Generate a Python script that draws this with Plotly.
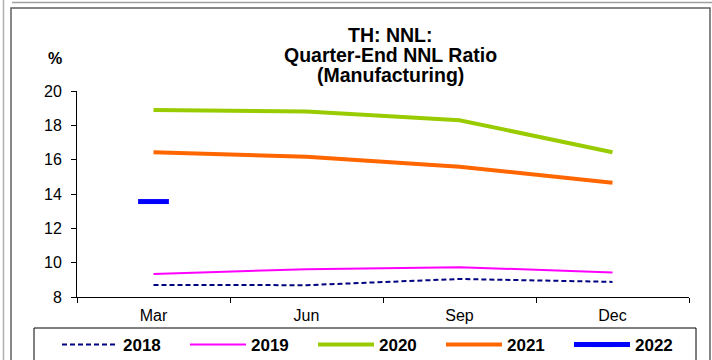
"""TH: NNL quarter-end NNL ratio (manufacturing) by year."""

import plotly.graph_objects as go

quarters = ["Mar", "Jun", "Sep", "Dec"]
years = ["2018", "2019", "2020", "2021", "2022"]
nnl_2018 = [8.70, 8.69, 9.05, 8.88]
nnl_2019 = [9.34, 9.62, 9.74, 9.42]
nnl_2020 = [18.89, 18.80, 18.30, 16.43]
nnl_2021 = [16.43, 16.17, 15.59, 14.66]
nnl_2022 = [13.56]
y_ticks = [8, 10, 12, 14, 16, 18, 20]

FONT = "Liberation Sans, Arial, sans-serif"
W, H = 712, 360
L, R, T, B = 77, 23, 91, 63
PW, PH = W - L - R, H - T - B


def px(x):
    return (x - L) / PW


def py(y):
    return (H - B - y) / PH


fig = go.Figure()
fig.add_trace(go.Scatter(
    x=quarters, y=nnl_2018, name=years[0], mode="lines",
    line=dict(color="#000080", width=2, dash="5px,3px"),
))
fig.add_trace(go.Scatter(
    x=quarters, y=nnl_2019, name=years[1], mode="lines",
    line=dict(color="#FF00FF", width=2),
))
fig.add_trace(go.Scatter(
    x=quarters, y=nnl_2020, name=years[2], mode="lines",
    line=dict(color="#99CC00", width=4),
))
fig.add_trace(go.Scatter(
    x=quarters, y=nnl_2021, name=years[3], mode="lines",
    line=dict(color="#FF6600", width=4),
))
fig.add_trace(go.Scatter(
    x=quarters[:len(nnl_2022)], y=nnl_2022, name=years[4], mode="lines+markers",
    line=dict(color="#0000FF", width=5),
    marker=dict(symbol="line-ew", size=22, color="#0000FF",
                line=dict(color="#0000FF", width=5)),
))

# outer frames
fig.add_shape(type="rect", xref="paper", yref="paper",
              x0=px(11), x1=px(710), y0=py(380), y1=py(8),
              line=dict(color="#606060", width=1.5), layer="below")
fig.add_shape(type="line", xref="paper", yref="paper",
              x0=px(12), x1=px(712), y0=py(2.5), y1=py(2.5),
              line=dict(color="#A0A0A0", width=1.5))
fig.add_shape(type="line", xref="paper", yref="paper",
              x0=px(3.5), x1=px(3.5), y0=py(0), y1=py(360),
              line=dict(color="#B0B0B0", width=1.5))
# legend box
fig.add_shape(type="rect", xref="paper", yref="paper",
              x0=px(34), x1=px(696), y0=py(380), y1=py(328),
              line=dict(color="#000000", width=1))

title_lines = ["TH: NNL:", "Quarter-End NNL Ratio", "(Manufacturing)"]
for i, line in enumerate(title_lines):
    fig.add_annotation(
        text=line, xref="paper", yref="paper", x=px(390), y=py(35 + 20 * i),
        xanchor="center", yanchor="middle", showarrow=False,
        font=dict(family=FONT, size=19.5, color="#000000", weight="bold"),
    )
fig.add_annotation(
    text="%", xref="paper", yref="paper", x=px(55), y=py(58),
    xanchor="center", yanchor="middle", showarrow=False,
    font=dict(family=FONT, size=16, color="#000000", weight="bold"),
)

fig.update_layout(
    width=W, height=H,
    margin=dict(l=L, r=R, t=T, b=B, autoexpand=False),
    paper_bgcolor="white", plot_bgcolor="white",
    font=dict(family=FONT, size=16, color="#000000"),
    showlegend=True,
    legend=dict(
        orientation="h", x=px(57), y=py(345), xanchor="left", yanchor="middle",
        font=dict(family=FONT, size=17, color="#000000", weight="bold"),
        itemwidth=56, entrywidth=57, entrywidthmode="pixels",
        bgcolor="rgba(0,0,0,0)", borderwidth=0,
    ),
    xaxis=dict(
        type="category", range=[-0.5, 3.5], tickson="boundaries",
        ticks="outside", ticklen=5, tickcolor="#000000", ticklabelstandoff=4,
        showline=True, linecolor="#000000", linewidth=1,
        showgrid=False, zeroline=False, fixedrange=True,
    ),
    yaxis=dict(
        range=[8, 20], tickvals=y_ticks, ticks="outside", ticklen=5,
        tickcolor="#000000", ticklabelstandoff=6,
        showline=True, linecolor="#000000", linewidth=1,
        showgrid=False, zeroline=False,
    ),
)

fig.write_html(
    "out.html",
    config={"displayModeBar": False},
    post_script="document.body.style.margin = '0';",
)
